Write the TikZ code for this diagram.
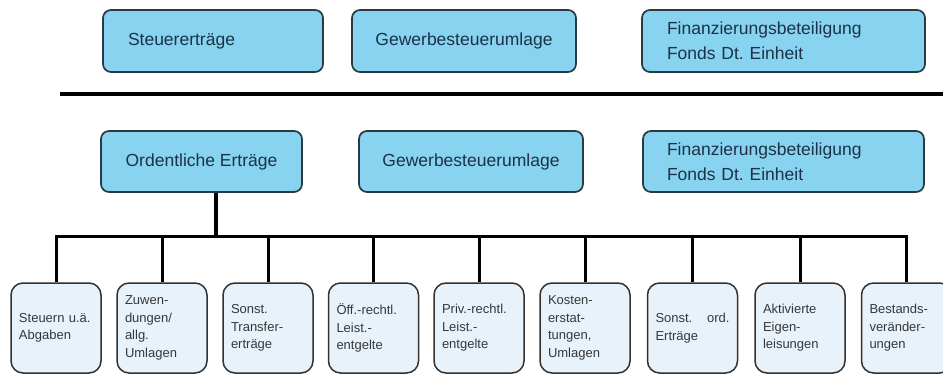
\documentclass[tikz,border=0pt]{standalone}
\usepackage{fontspec}
\setmainfont{Liberation Sans}
\frenchspacing
\definecolor{topfill}{RGB}{135,211,240}
\definecolor{botfill}{RGB}{231,242,250}
\definecolor{topline}{RGB}{40,58,68}
\definecolor{botline}{RGB}{50,50,50}
\definecolor{toptext}{RGB}{28,50,70}
\definecolor{bottext}{RGB}{55,55,55}
\begin{document}
\begin{tikzpicture}[x=1pt,y=1pt,
  topbox/.style={draw=topline, line width=1.7pt, fill=topfill, rounded corners=8pt,
    minimum height=62pt, inner sep=0pt, font=\fontsize{17.5}{25}\selectfont, text=toptext},
  botbox/.style={draw=botline, line width=1.5pt, fill=botfill, rounded corners=12pt,
    minimum width=90pt, minimum height=90pt, text width=74pt, align=left, inner sep=0pt,
    font=\fontsize{13}{17.5}\selectfont, text=bottext},
  conn/.style={line width=3pt, draw=black, line join=miter},
  stemline/.style={line width=4pt, draw=black}]
\fill[white] (0,0) rectangle (943,376);
\useasboundingbox (0,0) rectangle (943,376);
% top row
\node[topbox, minimum width=220pt, text width=170pt, align=left] (t1) at (213,335) {Steuererträge};
\node[topbox, minimum width=224pt, align=center] (t2) at (464,335) {Gewerbesteuerumlage};
\node[topbox, minimum width=283pt, text width=233pt, align=left] (t3) at (783.5,335) {Finanzierungsbeteiligung\\Fonds Dt. Einheit};
% separator
\coordinate (sepL) at (60,282);
\coordinate (sepR) at (950,282);
\draw[line width=4pt] (sepL) -- (sepR);
% second row
\node[topbox, minimum width=201pt, minimum height=61pt, align=center] (ord) at (201.5,214.5) {Ordentliche Erträge};
\node[topbox, minimum width=224pt, minimum height=61pt, align=center] (g2) at (471,214.5) {Gewerbesteuerumlage};
\node[topbox, minimum width=281pt, minimum height=61pt, text width=233pt, align=left] (f2) at (783.5,214.5) {Finanzierungsbeteiligung\\Fonds Dt. Einheit};
% bottom row
\node[botbox] (b1) at (56,48) {Steuern u.ä.\\Abgaben};
\node[botbox] (b2) at (162,48) {Zuwen-\\dungen/\\allg.\\Umlagen};
\node[botbox] (b3) at (268,48) {Sonst.\\Transfer-\\erträge};
\node[botbox] (b4) at (373.5,48) {Öff.-rechtl.\\Leist.-\\entgelte};
\node[botbox] (b5) at (479,48) {Priv.-rechtl.\\Leist.-\\entgelte};
\node[botbox] (b6) at (585,48) {Kosten-\\erstat-\\tungen,\\Umlagen};
\node[botbox] (b7) at (692.5,48) {Sonst.\hfill ord.\\Erträge};
\node[botbox] (b8) at (800,48) {Aktivierte\\Eigen-\\leisungen};
\node[botbox] (b9) at (906.5,48) {Bestands-\\veränder-\\ungen};
% connectors
\coordinate (bus) at (0,140);
\draw[stemline] ([xshift=14.5pt]ord.south) -- ([xshift=14.5pt]ord.south |- bus);
\draw[conn] (b1.north) -- (b1.north |- bus) -- (b9.north |- bus) -- (b9.north);
\foreach \i in {2,...,8} {
  \draw[conn] (b\i.north) -- (b\i.north |- bus);
}
\end{tikzpicture}
\end{document}
